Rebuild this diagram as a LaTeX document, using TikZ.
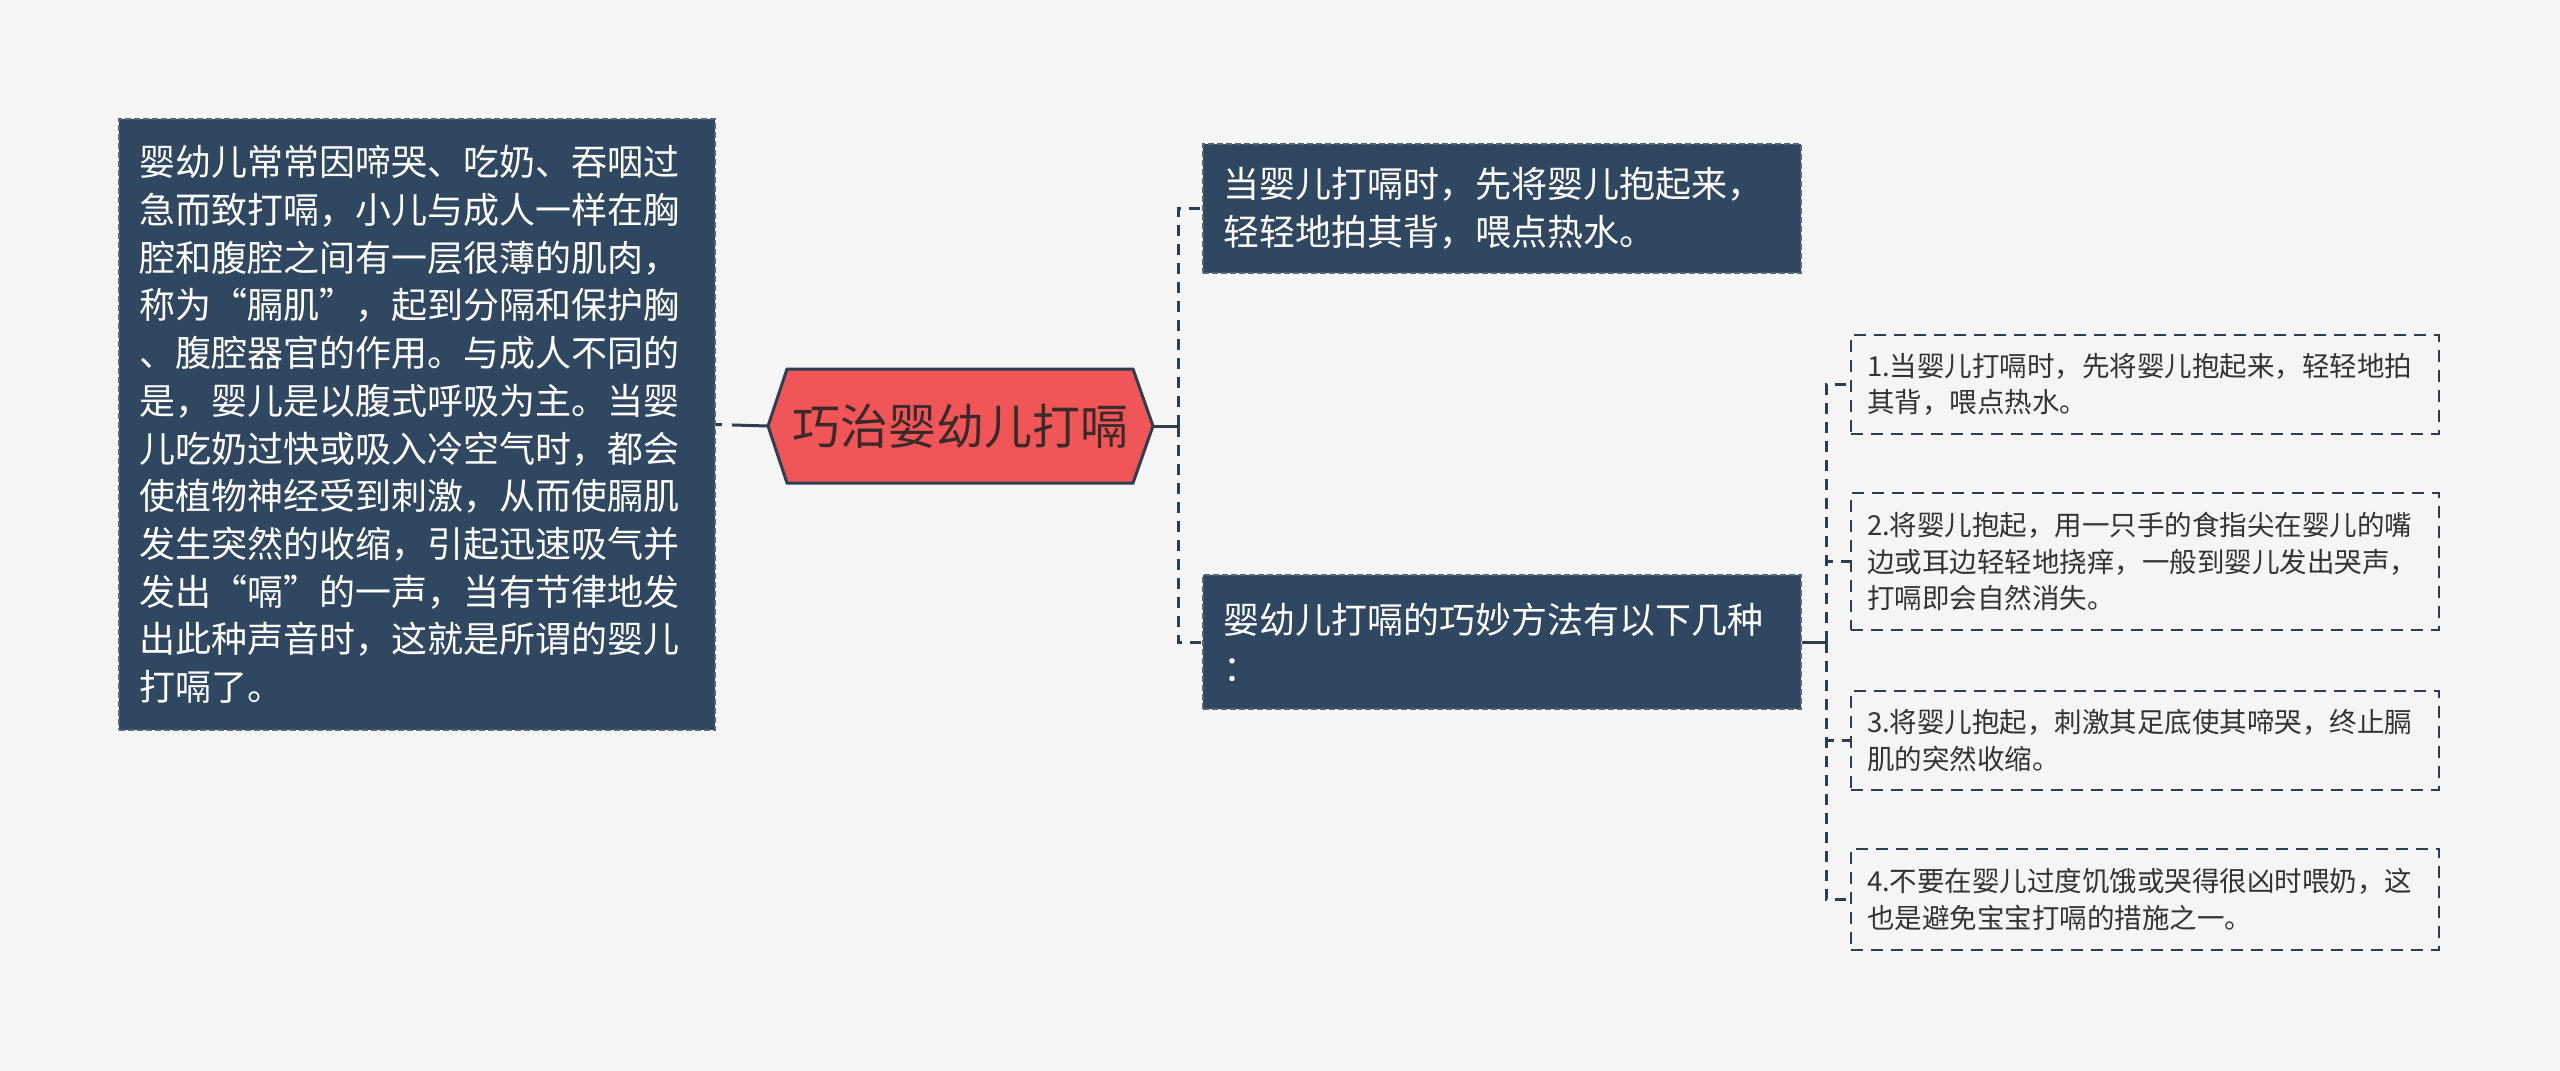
\documentclass[tikz,border=0pt]{standalone}
\usepackage{fontspec}
\setmainfont{Noto Sans CJK SC}
\definecolor{bg}{HTML}{F5F5F5}
\definecolor{navy}{HTML}{2F4760}
\definecolor{lineclr}{HTML}{2D3E50}
\definecolor{hexred}{HTML}{F05657}
\definecolor{darktext}{HTML}{333333}
\definecolor{hextext}{HTML}{3A2A2A}
\begin{document}
\begin{tikzpicture}[x=1pt,y=-1pt,
  darkbox/.style={draw=lineclr!80!white, fill=navy, line width=2pt, dash pattern=on 6pt off 3pt,
    rectangle, inner sep=0pt, text=white, align=left,
    font=\fontsize{36}{47.7}\selectfont},
  lightbox/.style={draw=lineclr, fill=bg, line width=2.5pt, dash pattern=on 12pt off 8pt,
    rectangle, inner sep=0pt, text=darktext, align=left,
    font=\fontsize{27.5}{36.5}\selectfont},
  conn/.style={draw=lineclr, line width=3pt, dash pattern=on 11pt off 8pt},
  solidconn/.style={draw=lineclr, line width=3pt}
]
\useasboundingbox (0,0) rectangle (2560,1071);
\fill[bg] (0,0) rectangle (2560,1071);

% left description box
\node[darkbox, minimum width=596pt, minimum height=611pt, text width=556pt] (left) at (417,424.5) {%
婴幼儿常常因啼哭、吃奶、吞咽过\\
急而致打嗝，小儿与成人一样在胸\\
腔和腹腔之间有一层很薄的肌肉，\\
称为“膈肌”，起到分隔和保护胸\\
、腹腔器官的作用。与成人不同的\\
是，婴儿是以腹式呼吸为主。当婴\\
儿吃奶过快或吸入冷空气时，都会\\
使植物神经受到刺激，从而使膈肌\\
发生突然的收缩，引起迅速吸气并\\
发出“嗝”的一声，当有节律地发\\
出此种声音时，这就是所谓的婴儿\\
打嗝了。};

% central hexagon
\fill[hexred, draw=lineclr, line width=3pt, line join=miter]
  (768,426) -- (787,369) -- (1133,369) -- (1153,426) -- (1133,483) -- (787,483) -- cycle;
\node[inner sep=0pt, minimum width=385pt, minimum height=114pt, text=hextext,
  font=\fontsize{48}{56}\selectfont] (hex) at (960.5,426) {巧治婴幼儿打嗝};

% right level-1 boxes
\node[darkbox, minimum width=598pt, minimum height=129pt, text width=558pt] (top) at (1502,208.5) {%
当婴儿打嗝时，先将婴儿抱起来，\\
轻轻地拍其背，喂点热水。};
\node[darkbox, minimum width=598pt, minimum height=134pt, text width=558pt] (bot) at (1502,642) {%
婴幼儿打嗝的巧妙方法有以下几种\\
：};

% sub boxes
\node[lightbox, minimum width=588pt, minimum height=99pt, text width=556pt] (s1) at (2145,384.5) {%
1.当婴儿打嗝时，先将婴儿抱起来，轻轻地拍\\
其背，喂点热水。};
\node[lightbox, minimum width=588pt, minimum height=137pt, text width=556pt] (s2) at (2145,561.5) {%
2.将婴儿抱起，用一只手的食指尖在婴儿的嘴\\
边或耳边轻轻地挠痒，一般到婴儿发出哭声，\\
打嗝即会自然消失。};
\node[lightbox, minimum width=588pt, minimum height=99pt, text width=556pt] (s3) at (2145,740.5) {%
3.将婴儿抱起，刺激其足底使其啼哭，终止膈\\
肌的突然收缩。};
\node[lightbox, minimum width=588pt, minimum height=101pt, text width=556pt] (s4) at (2145,899.5) {%
4.不要在婴儿过度饥饿或哭得很凶时喂奶，这\\
也是避免宝宝打嗝的措施之一。};

% connectors
\draw[solidconn, dash pattern=on 6pt off 10pt on 80pt] (left.east) -- (hex.west);

\coordinate (j1) at (1178,426);
\draw[solidconn] (hex.east) -- (j1);
\draw[conn] (j1) |- (top.west);
\draw[conn] (j1) |- (bot.west);

\coordinate (j2) at (1826,642);
\draw[solidconn] (bot.east) -- (j2);
\draw[conn] (j2) |- (s1.west);
\draw[conn] (j2) |- (s2.west);
\draw[conn] (j2) |- (s3.west);
\draw[conn] (j2) |- (s4.west);
\end{tikzpicture}
\end{document}
